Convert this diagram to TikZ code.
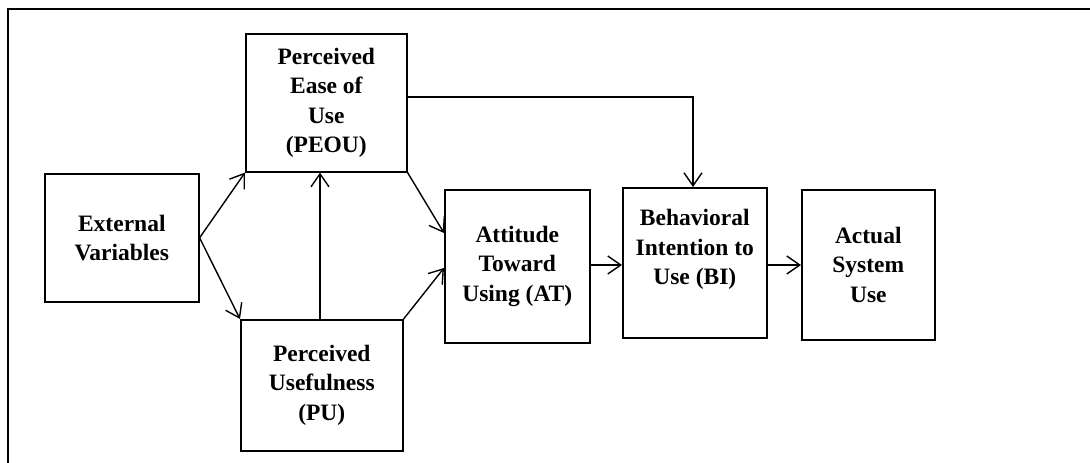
\documentclass[tikz,border=0pt]{standalone}
\usepackage{fontspec}
\setmainfont{Liberation Serif}
\usetikzlibrary{arrows.meta}
\tikzset{
  box/.style={draw, line width=1.6pt, anchor=north west, align=center, inner sep=0pt,
    font=\fontsize{23.5}{29.5}\selectfont\bfseries},
  conn/.style={line width=1.4pt, -{Straight Barb[length=13pt,width=18pt,line width=1.4pt]}},
}
\begin{document}
\begin{tikzpicture}[x=1pt,y=-1pt]
\useasboundingbox (0,0) rectangle (1090,463);
\draw[line width=2pt] (8,463) -- (8,9) -- (1090,9);
\node[box, minimum width=154pt, minimum height=128pt] (ev) at (44,173) {External\\Variables};
\node[box, minimum width=161pt, minimum height=138pt] (peou) at (245,33) {Perceived\\Ease of\\Use\\(PEOU)};
\node[box, minimum width=162pt, minimum height=131pt] (pu) at (240,319) {Perceived\\Usefulness\\(PU)};
\node[box, minimum width=145pt, minimum height=153pt] (at) at (444,189) {Attitude\\Toward\\Using (AT)};
\node[box, minimum width=144pt, minimum height=150pt] (bi) at (622,187) {Behavioral\\Intention to\\Use (BI)\\[2pt]};
\node[box, minimum width=133pt, minimum height=150pt] (asu) at (801,189) {Actual\\System\\Use};
\coordinate (bend) at (693,97);
\draw[conn] (ev.east) -- (peou.south west);
\draw[conn] (ev.east) -- (pu.north west);
\draw[conn] (pu.north -| 320,0) -- (peou.south -| 320,0);
\draw[conn] (peou.south east) -- (at.west |- 0,233);
\draw[conn] (pu.north east) -- (at.west |- 0,268);
\draw[conn] (peou.east |- bend) -- (bend) -- (bi.north -| bend);
\draw[conn] (at.east |- 0,265) -- (bi.west |- 0,265);
\draw[conn] (bi.east |- 0,265) -- (asu.west |- 0,265);
\end{tikzpicture}
\end{document}
